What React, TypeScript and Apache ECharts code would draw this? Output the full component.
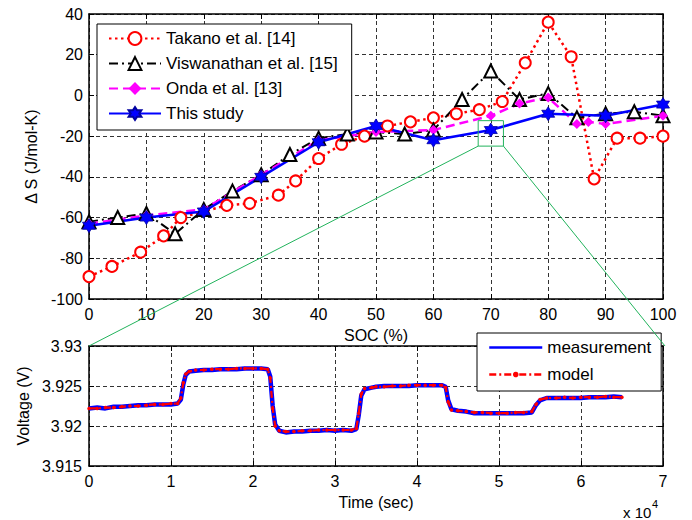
import React, { useEffect, useRef } from "react";
import * as echarts from "echarts";

// ---- Top panel: entropy change vs SOC ----
const socTakano = [0, 4, 9, 13, 16, 24, 28, 33, 36, 40, 44, 48, 52, 56, 60, 64, 68, 72, 76, 80, 84, 88, 92, 96, 100];
const dsTakano = [-89, -84, -77, -69, -60, -54, -53, -49, -42, -31, -24, -20, -15, -13, -11, -9, -7, -3, 16, 36, 19, -41, -21, -21, -20];

const socVisw = [0, 5, 10, 15, 20, 25, 30, 35, 40, 45, 50, 55, 60, 65, 70, 75, 80, 85, 90, 95, 100];
const dsVisw = [-62, -60, -58, -68, -56, -47, -39, -29, -21, -19, -18, -19, -17, -2, 12, -2, 1, -11, -9, -8, -10];

const socOnda = [0, 10, 20, 30, 40, 50, 60, 70, 75, 80, 85, 87, 90, 100];
const dsOnda = [-63, -59, -56, -39, -22, -18, -17, -10, -4, -1, -14, -13, -14, -10];

const socStudy = [0, 10, 20, 30, 40, 50, 60, 70, 80, 90, 100];
const dsStudy = [-64, -60, -57, -40, -23, -15, -22, -17, -9, -10, -4.5];

const seriesNamesTop = ["Takano et al. [14]", "Viswanathan et al. [15]", "Onda et al. [13]", "This study"];

// zoom window drawn on the top panel (SOC %, J/mol-K)
const zoomSoc = [67.8, 72.2];
const zoomDs = [-24.9, -12.4];

// ---- Bottom panel: voltage vs time (x 10^4 s) ----
const timeE4 = [0, 0.1, 0.2, 0.3, 0.4, 0.5, 0.6, 0.7, 0.8, 0.9, 1.0, 1.08, 1.12, 1.15, 1.18, 1.22, 1.3, 1.4, 1.5, 1.6, 1.7, 1.8, 1.9, 2.0, 2.1, 2.18, 2.21, 2.24, 2.27, 2.32, 2.4, 2.5, 2.6, 2.7, 2.8, 2.9, 3.0, 3.1, 3.2, 3.26, 3.29, 3.32, 3.36, 3.45, 3.5, 3.6, 3.7, 3.8, 3.9, 4.0, 4.1, 4.2, 4.3, 4.35, 4.38, 4.42, 4.5, 4.6, 4.7, 4.8, 4.9, 5.0, 5.1, 5.2, 5.3, 5.4, 5.45, 5.5, 5.58, 5.7, 5.8, 5.9, 6.0, 6.1, 6.2, 6.3, 6.4, 6.5];
const vMeasured = [3.9222, 3.9223, 3.9222, 3.9224, 3.9224, 3.9225, 3.9226, 3.9226, 3.9227, 3.9227, 3.9227, 3.9228, 3.9233, 3.9252, 3.9264, 3.9268, 3.9269, 3.927, 3.927, 3.9271, 3.9271, 3.9271, 3.9272, 3.9272, 3.9272, 3.9271, 3.9262, 3.9225, 3.9202, 3.9194, 3.9192, 3.9193, 3.9193, 3.9194, 3.9194, 3.9195, 3.9194, 3.9195, 3.9194, 3.9196, 3.9214, 3.9238, 3.9246, 3.9248, 3.9249, 3.925, 3.925, 3.925, 3.925, 3.9251, 3.9251, 3.9251, 3.9251, 3.9249, 3.9232, 3.9221, 3.9219, 3.9218, 3.9216, 3.9216, 3.9216, 3.9216, 3.9216, 3.9216, 3.9216, 3.9217, 3.9226, 3.9232, 3.9235, 3.9235, 3.9235, 3.9235, 3.9235, 3.9236, 3.9236, 3.9236, 3.9237, 3.9236];
const vModel = [3.9222, 3.9222, 3.9223, 3.9223, 3.9224, 3.9225, 3.9225, 3.9226, 3.9227, 3.9227, 3.9228, 3.9228, 3.9235, 3.9254, 3.9265, 3.9268, 3.927, 3.927, 3.9271, 3.9271, 3.9271, 3.9272, 3.9272, 3.9272, 3.9272, 3.9271, 3.926, 3.9222, 3.92, 3.9194, 3.9193, 3.9193, 3.9194, 3.9194, 3.9195, 3.9195, 3.9195, 3.9195, 3.9195, 3.9197, 3.9216, 3.924, 3.9247, 3.9248, 3.9249, 3.9249, 3.925, 3.925, 3.9251, 3.9251, 3.9251, 3.9251, 3.9251, 3.9248, 3.923, 3.922, 3.9219, 3.9218, 3.9217, 3.9217, 3.9216, 3.9216, 3.9216, 3.9217, 3.9217, 3.9218, 3.9227, 3.9233, 3.9235, 3.9235, 3.9236, 3.9235, 3.9236, 3.9236, 3.9236, 3.9237, 3.9236, 3.9236];

const FONT = "Liberation Sans, Arial, Helvetica, sans-serif";
const GREEN = "#22b35c";
const HEXAGRAM = "path://M0,-10L2.887,-5L8.66,-5L5.774,0L8.66,5L2.887,5L0,10L-2.887,5L-8.66,5L-5.774,0L-8.66,-5L-2.887,-5Z";

const zip = (xs: number[], ys: number[]) => xs.map((x, i) => [x, ys[i]]);

export default function App() {
  const ref = useRef<HTMLDivElement>(null);
  useEffect(() => {
    const chart = echarts.init(ref.current!, null, { renderer: "svg" });
    const gridLine = { show: true, lineStyle: { color: "#333", width: 1, type: [4, 3] as any } };
    const axisLine = { show: true, onZero: false, lineStyle: { color: "#000", width: 1.5 } };
    const tick = { show: true, inside: true, length: 5, lineStyle: { color: "#000", width: 1 } };
    const label = { fontSize: 16, fontFamily: FONT, color: "#000" };
    const nameStyle = { fontSize: 16, fontFamily: FONT, color: "#000" };
    const vfmt = (v: number) => String(+v.toFixed(3));

    const option: any = {
      animation: false,
      backgroundColor: "#fff",
      grid: [
        { left: 89, top: 14, width: 574, height: 285 },
        { left: 89, top: 346, width: 574, height: 120 },
      ],
      xAxis: [
        { gridIndex: 0, type: "value", min: 0, max: 100, interval: 10, axisLine, axisTick: tick, splitLine: gridLine,
          axisLabel: { ...label, margin: 7 }, name: "SOC (%)", nameLocation: "middle", nameGap: 28, nameTextStyle: nameStyle },
        { gridIndex: 0, type: "value", position: "top", min: 0, max: 100, interval: 10, axisLine, axisTick: tick,
          splitLine: { show: false }, axisLabel: { show: false } },
        { gridIndex: 1, type: "value", min: 0, max: 7, interval: 1, axisLine, axisTick: tick, splitLine: gridLine,
          axisLabel: { ...label, margin: 7 }, name: "Time (sec)", nameLocation: "middle", nameGap: 28, nameTextStyle: nameStyle },
        { gridIndex: 1, type: "value", position: "top", min: 0, max: 7, interval: 1, axisLine, axisTick: tick,
          splitLine: { show: false }, axisLabel: { show: false } },
      ],
      yAxis: [
        { gridIndex: 0, type: "value", min: -100, max: 40, interval: 20, axisLine, axisTick: tick, splitLine: gridLine,
          axisLabel: { ...label, margin: 6 }, name: "\u0394 S (J/mol-K)", nameLocation: "middle", nameGap: 50, nameTextStyle: nameStyle },
        { gridIndex: 0, type: "value", position: "right", min: -100, max: 40, interval: 20, axisLine, axisTick: tick,
          splitLine: { show: false }, axisLabel: { show: false } },
        { gridIndex: 1, type: "value", min: 3.915, max: 3.93, interval: 0.005, axisLine, axisTick: tick, splitLine: gridLine,
          axisLabel: { ...label, margin: 7, formatter: vfmt }, name: "Voltage (V)", nameLocation: "middle", nameGap: 52, nameTextStyle: nameStyle },
        { gridIndex: 1, type: "value", position: "right", min: 3.915, max: 3.93, interval: 0.005, axisLine, axisTick: tick,
          splitLine: { show: false }, axisLabel: { show: false } },
      ],
      legend: [
        {
          data: seriesNamesTop, left: 97, top: 24, orient: "vertical", itemWidth: 52, itemHeight: 16, itemGap: 8,
          padding: [6, 14, 8, 11], borderColor: "#000", borderWidth: 1, backgroundColor: "#fff", selectedMode: false,
          textStyle: { fontSize: 17, fontFamily: FONT, color: "#000", lineHeight: 16 },
        },
        {
          data: [{ name: "measurement", itemStyle: { opacity: 0 } }, { name: "model" }],
          left: 477, top: 333, orient: "vertical", itemWidth: 53, itemHeight: 7, itemGap: 10,
          padding: [6, 10, 8, 11], borderColor: "#000", borderWidth: 1, backgroundColor: "#fff", selectedMode: false,
          lineStyle: { width: 2.5 },
          textStyle: { fontSize: 17, fontFamily: FONT, color: "#000", lineHeight: 16 },
        },
      ],
      series: [
        { name: seriesNamesTop[0], type: "line", xAxisIndex: 0, yAxisIndex: 0, data: zip(socTakano, dsTakano), clip: false,
          symbol: "emptyCircle", symbolSize: 11, lineStyle: { color: "#ff0000", width: 2.5, type: [2.5, 3.5] },
          itemStyle: { color: "#ff0000", borderWidth: 2.5 } },
        { name: seriesNamesTop[1], type: "line", xAxisIndex: 0, yAxisIndex: 0, data: zip(socVisw, dsVisw), clip: false,
          symbol: "emptyTriangle", symbolSize: 13, lineStyle: { color: "#000", width: 2, type: [9, 4, 2, 4] },
          itemStyle: { color: "#000", borderWidth: 2 } },
        { name: seriesNamesTop[2], type: "line", xAxisIndex: 0, yAxisIndex: 0, data: zip(socOnda, dsOnda), clip: false,
          symbol: "diamond", symbolSize: 10, lineStyle: { color: "#ff00ff", width: 2.5, type: [9, 5] },
          itemStyle: { color: "#ff00ff" } },
        { name: seriesNamesTop[3], type: "line", xAxisIndex: 0, yAxisIndex: 0, data: zip(socStudy, dsStudy), clip: false,
          symbol: HEXAGRAM, symbolSize: [13, 14], lineStyle: { color: "#0000ff", width: 2.5 },
          itemStyle: { color: "#0000ff", borderColor: "#0000a0", borderWidth: 0.8 } },
        { name: "measurement", type: "line", xAxisIndex: 2, yAxisIndex: 2, data: zip(timeE4, vMeasured),
          showSymbol: false, symbol: "none", lineStyle: { color: "#0000ff", width: 4.5 }, itemStyle: { color: "#0000ff" } },
        { name: "model", type: "line", xAxisIndex: 2, yAxisIndex: 2, data: zip(timeE4, vModel),
          symbol: "circle", symbolSize: 3.5, lineStyle: { color: "#ff0000", width: 2.2, type: [7, 3, 2, 3] },
          itemStyle: { color: "#ff0000" } },
      ],
    };
    chart.setOption(option);

    const top = (pt: number[]) => chart.convertToPixel({ xAxisIndex: 0, yAxisIndex: 0 }, pt) as number[];
    const bot = (pt: number[]) => chart.convertToPixel({ xAxisIndex: 2, yAxisIndex: 2 }, pt) as number[];
    const a = top([zoomSoc[0], zoomDs[1]]);
    const b = top([zoomSoc[1], zoomDs[0]]);
    const c = bot([0, 3.93]);
    const d = bot([7, 3.93]);
    const r = bot([7, 3.915]);
    chart.setOption({
      graphic: [
        { type: "rect", z: 100, shape: { x: a[0], y: a[1], width: b[0] - a[0], height: b[1] - a[1] },
          style: { fill: "none", stroke: GREEN, lineWidth: 1 } },
        { type: "line", z: 100, shape: { x1: a[0], y1: b[1], x2: c[0], y2: c[1] }, style: { stroke: GREEN, lineWidth: 1 } },
        { type: "line", z: 100, shape: { x1: b[0], y1: b[1], x2: d[0] + 2, y2: d[1] }, style: { stroke: GREEN, lineWidth: 1 } },
        { type: "text", z: 100, x: r[0] - 40, y: r[1] + 39, style: { text: "x 10", fontSize: 15, fontFamily: FONT, fill: "#000" } },
        { type: "text", z: 100, x: r[0] - 11, y: r[1] + 32, style: { text: "4", fontSize: 11, fontFamily: FONT, fill: "#000" } },
      ],
    });
    return () => chart.dispose();
  }, []);
  return <div ref={ref} style={{ position: "absolute", left: 0, top: 0, width: 692, height: 520 }} />;
}
